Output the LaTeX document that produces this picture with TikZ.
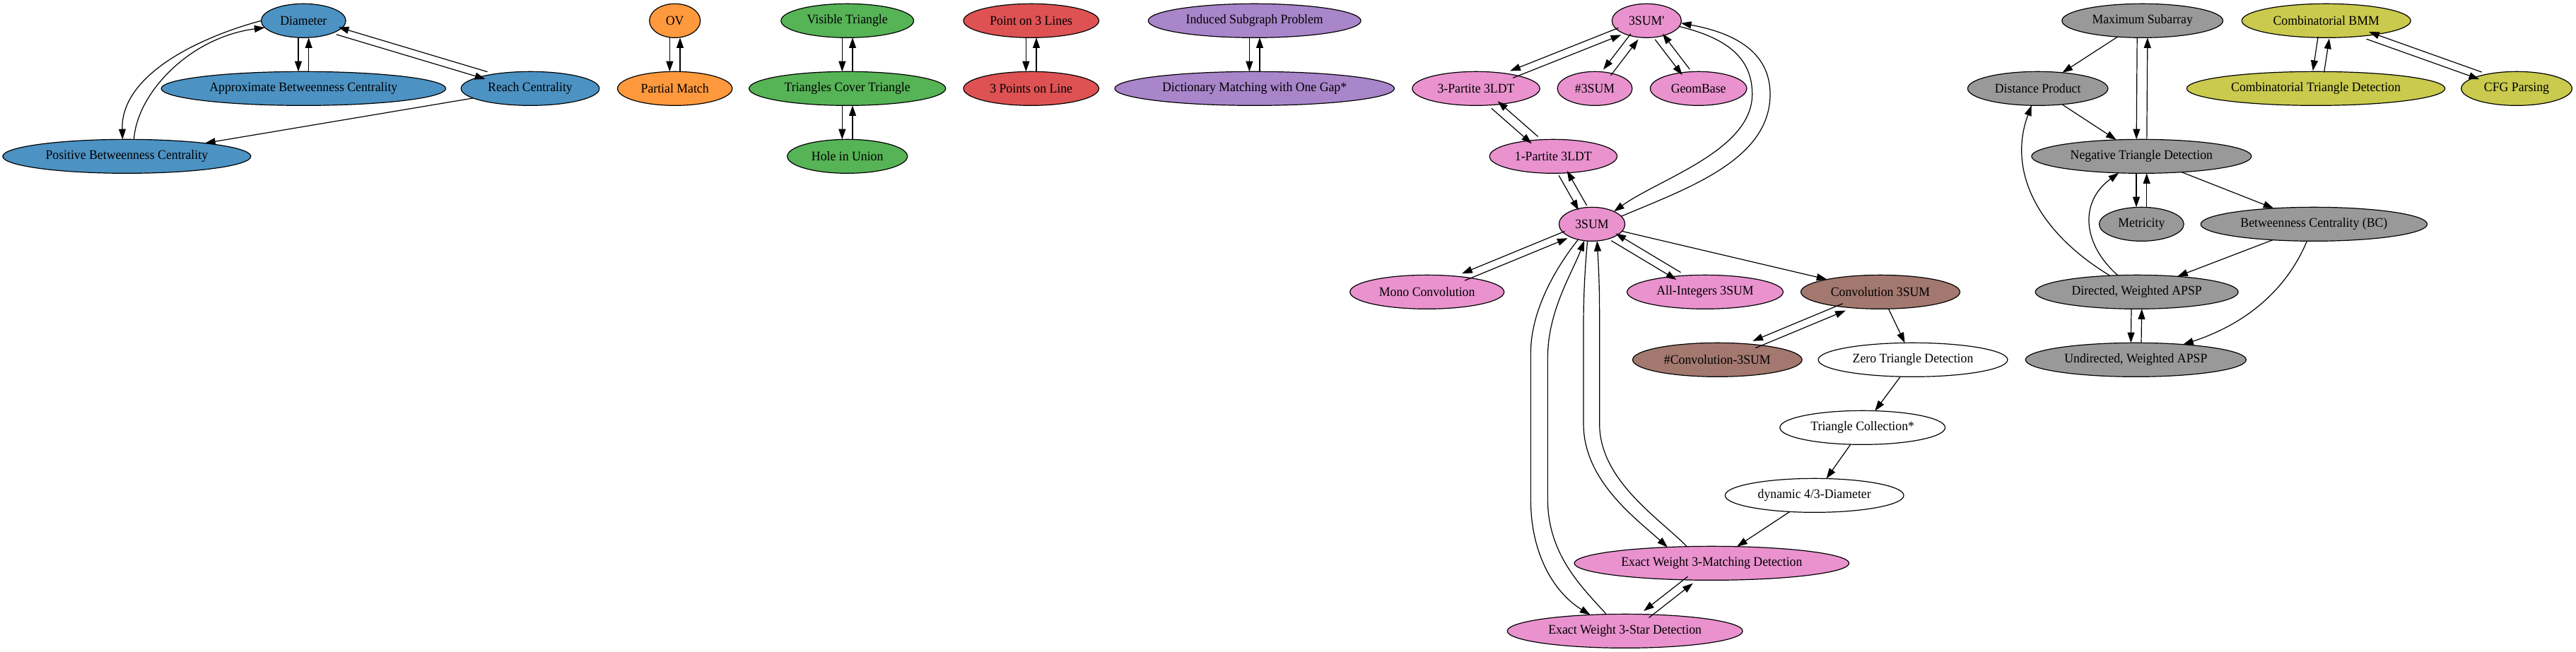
\documentclass[tikz,border=0pt]{standalone}
\usepackage{fontspec}
\setmainfont{Liberation Serif}[FakeStretch=0.95]
\usetikzlibrary{arrows.meta,shapes.geometric}
\definecolor{cblue}{RGB}{76,146,195}
\definecolor{corange}{RGB}{255,153,62}
\definecolor{cgreen}{RGB}{86,179,86}
\definecolor{cred}{RGB}{222,82,83}
\definecolor{cpurple}{RGB}{169,133,202}
\definecolor{cbrown}{RGB}{163,120,111}
\definecolor{cpink}{RGB}{233,146,206}
\definecolor{cgrey}{RGB}{153,153,153}
\definecolor{colive}{RGB}{201,202,78}
\begin{document}
\begin{tikzpicture}[x=1pt,y=1pt,
  gv/.style={ellipse, draw=black, line width=0.9pt, inner xsep=7pt, inner ysep=4pt,
    minimum width=54pt, minimum height=36pt, outer sep=0pt,
    font=\fontsize{14}{16}\selectfont},
  e/.style={-{Triangle[length=11pt,width=7.5pt]}, line width=0.9pt, draw=black},
  sh/.style={transform canvas={shift={(#1)}}}]
\useasboundingbox (0,0) rectangle (2733,-692.25);
% blue cluster
\node[gv, fill=cblue] (dia) at (322,-22) {Diameter};
\node[gv, fill=cblue] (abc) at (322,-94) {Approximate Betweenness Centrality};
\node[gv, fill=cblue] (reach) at (562.5,-94) {Reach Centrality};
\node[gv, fill=cblue] (pbc) at (134.5,-166) {Positive Betweenness Centrality};
% orange
\node[gv, fill=corange] (ov) at (716,-22) {OV};
\node[gv, fill=corange] (pm) at (716,-94) {Partial Match};
% green
\node[gv, fill=cgreen] (vt) at (899,-22) {Visible Triangle};
\node[gv, fill=cgreen] (tct) at (899,-94) {Triangles Cover Triangle};
\node[gv, fill=cgreen] (hole) at (899,-166) {Hole in Union};
% red
\node[gv, fill=cred] (pol) at (1094,-22) {Point on 3 Lines};
\node[gv, fill=cred] (tpl) at (1094,-94) {3 Points on Line};
% purple
\node[gv, fill=cpurple] (isp) at (1331,-22) {Induced Subgraph Problem};
\node[gv, fill=cpurple] (dmg) at (1331,-94) {Dictionary Matching with One Gap*};
% pink
\node[gv, fill=cpink] (sp) at (1747,-22) {3SUM\textquotesingle};
\node[gv, fill=cpink] (ptl) at (1566,-94) {3-Partite 3LDT};
\node[gv, fill=cpink] (hs) at (1692,-94) {\#3SUM};
\node[gv, fill=cpink] (gb) at (1802,-94) {GeomBase};
\node[gv, fill=cpink] (otl) at (1648,-166) {1-Partite 3LDT};
\node[gv, fill=cpink] (s3) at (1689,-238) {3SUM};
\node[gv, fill=cpink] (mono) at (1514,-310) {Mono Convolution};
\node[gv, fill=cpink] (ai) at (1809,-310) {All-Integers 3SUM};
\node[gv, fill=cbrown] (c3) at (1995,-310) {Convolution 3SUM};
\node[gv, fill=cbrown] (hc3) at (1822,-382) {\#Convolution-3SUM};
\node[gv, fill=white] (zt) at (2029.5,-382) {Zero Triangle Detection};
\node[gv, fill=white] (tc) at (1976,-454) {Triangle Collection*};
\node[gv, fill=white] (dyn) at (1925,-526) {dynamic 4/3-Diameter};
\node[gv, fill=cpink] (em) at (1816,-598) {Exact Weight 3-Matching Detection};
\node[gv, fill=cpink] (es) at (1724,-670) {Exact Weight 3-Star Detection};
% grey
\node[gv, fill=cgrey] (ms) at (2273,-22) {Maximum Subarray};
\node[gv, fill=cgrey] (dp) at (2162,-94) {Distance Product};
\node[gv, fill=cgrey] (ntd) at (2272,-166) {Negative Triangle Detection};
\node[gv, fill=cgrey] (met) at (2272,-238) {Metricity};
\node[gv, fill=cgrey] (bc) at (2455,-238) {Betweenness Centrality (BC)};
\node[gv, fill=cgrey] (dw) at (2267,-310) {Directed, Weighted APSP};
\node[gv, fill=cgrey] (uw) at (2266,-382) {Undirected, Weighted APSP};
% olive
\node[gv, fill=colive] (bmm) at (2468,-22) {Combinatorial BMM};
\node[gv, fill=colive] (ctd) at (2457,-94) {Combinatorial Triangle Detection};
\node[gv, fill=colive] (cfg) at (2670,-94) {CFG Parsing};

% blue edges
\draw[e,sh={-5.5pt,0pt}] (dia) -- (abc);
\draw[e,sh={5.5pt,0pt}] (abc) -- (dia);
\draw[e,sh={-1.15pt,-3.83pt}] (dia) -- (reach);
\draw[e,sh={1.15pt,3.83pt}] (reach) -- (dia);
\draw[e] (dia.180) .. controls (210,-40) and (128,-80) .. (pbc.104);
\draw[e] (pbc.67) .. controls (145,-100) and (200,-40) .. (dia.190);
\draw[e] (reach) -- (pbc);
% orange, green, red, purple
\draw[e,sh={-5.5pt,0pt}] (ov) -- (pm);
\draw[e,sh={5.5pt,0pt}] (pm) -- (ov);
\draw[e,sh={-5.5pt,0pt}] (vt) -- (tct);
\draw[e,sh={5.5pt,0pt}] (tct) -- (vt);
\draw[e,sh={-5.5pt,0pt}] (tct) -- (hole);
\draw[e,sh={5.5pt,0pt}] (hole) -- (tct);
\draw[e,sh={-5.5pt,0pt}] (pol) -- (tpl);
\draw[e,sh={5.5pt,0pt}] (tpl) -- (pol);
\draw[e,sh={-5.5pt,0pt}] (isp) -- (dmg);
\draw[e,sh={5.5pt,0pt}] (dmg) -- (isp);
% pink
\draw[e,sh={-1.48pt,3.72pt}] (sp) -- (ptl);
\draw[e,sh={1.48pt,-3.72pt}] (ptl) -- (sp);
\draw[e,sh={-3.97pt,3.04pt}] (sp) -- (hs);
\draw[e,sh={3.97pt,-3.04pt}] (hs) -- (sp);
\draw[e,sh={-3.97pt,-3.04pt}] (sp) -- (gb);
\draw[e,sh={3.97pt,3.04pt}] (gb) -- (sp);
\draw[e,sh={-3.3pt,-3.76pt}] (ptl) -- (otl);
\draw[e,sh={3.3pt,3.76pt}] (otl) -- (ptl);
\draw[e,sh={-4.34pt,-2.47pt}] (otl) -- (s3);
\draw[e,sh={4.34pt,2.47pt}] (s3) -- (otl);
\draw[e] (sp.-10) .. controls (1830,-40) and (1859,-60) .. (1859,-100)
  .. controls (1859,-160) and (1760,-190) .. (s3.30);
\draw[e] (s3.15) .. controls (1790,-200) and (1878,-170) .. (1878,-100)
  .. controls (1878,-55) and (1840,-35) .. (sp.-4);
\draw[e,sh={-1.52pt,3.7pt}] (s3) -- (mono);
\draw[e,sh={1.52pt,-3.7pt}] (mono) -- (s3);
\draw[e,sh={-2.3pt,-3.86pt}] (s3) -- (ai);
\draw[e,sh={2.3pt,3.86pt}] (ai) -- (s3);
\draw[e] (s3) -- (c3);
\draw[e,sh={-1.54pt,3.69pt}] (c3) -- (hc3);
\draw[e,sh={1.54pt,-3.69pt}] (hc3) -- (c3);
\draw[e] (c3) -- (zt);
\draw[e] (zt) -- (tc);
\draw[e] (tc) -- (dyn);
\draw[e] (dyn) -- (em);
\draw[e,sh={-2.77pt,3.55pt}] (em) -- (es);
\draw[e,sh={2.77pt,-3.55pt}] (es) -- (em);
\draw[e] (s3.228) .. controls (1650,-285) and (1624,-330) .. (1624,-375)
  -- (1624,-530) .. controls (1624,-590) and (1650,-630) .. (es.155);
\draw[e] (es.138) .. controls (1680,-625) and (1642,-590) .. (1642,-530)
  -- (1642,-380) .. controls (1642,-330) and (1668,-290) .. (s3.245);
\draw[e] (s3.255) .. controls (1681,-290) and (1680,-320) .. (1680,-345)
  -- (1680,-450) .. controls (1680,-510) and (1735,-550) .. (em.160);
\draw[e] (em.146) .. controls (1760,-550) and (1697,-510) .. (1697,-450)
  -- (1697,-340) .. controls (1697,-300) and (1696,-285) .. (s3.287);
% grey
\draw[e] (ms) -- (dp);
\draw[e,sh={-5.5pt,0pt}] (ms) -- (ntd);
\draw[e,sh={5.5pt,0pt}] (ntd) -- (ms);
\draw[e] (dp) -- (ntd);
\draw[e,sh={-5.5pt,0pt}] (ntd) -- (met);
\draw[e,sh={5.5pt,0pt}] (met) -- (ntd);
\draw[e] (ntd) -- (bc);
\draw[e] (bc) -- (dw);
\draw[e] (bc) .. controls (2425,-310) and (2380,-345) .. (uw);
\draw[e] (dw) .. controls (2160,-245) and (2130,-180) .. (dp);
\draw[e] (dw) .. controls (2210,-260) and (2205,-215) .. (ntd);
\draw[e,sh={-5.5pt,0pt}] (dw) -- (uw);
\draw[e,sh={5.5pt,0pt}] (uw) -- (dw);
% olive
\draw[e,sh={-5.93pt,0.91pt}] (bmm) -- (ctd);
\draw[e,sh={5.93pt,-0.91pt}] (ctd) -- (bmm);
\draw[e,sh={-1.34pt,-3.77pt}] (bmm) -- (cfg);
\draw[e,sh={1.34pt,3.77pt}] (cfg) -- (bmm);
\end{tikzpicture}
\end{document}
